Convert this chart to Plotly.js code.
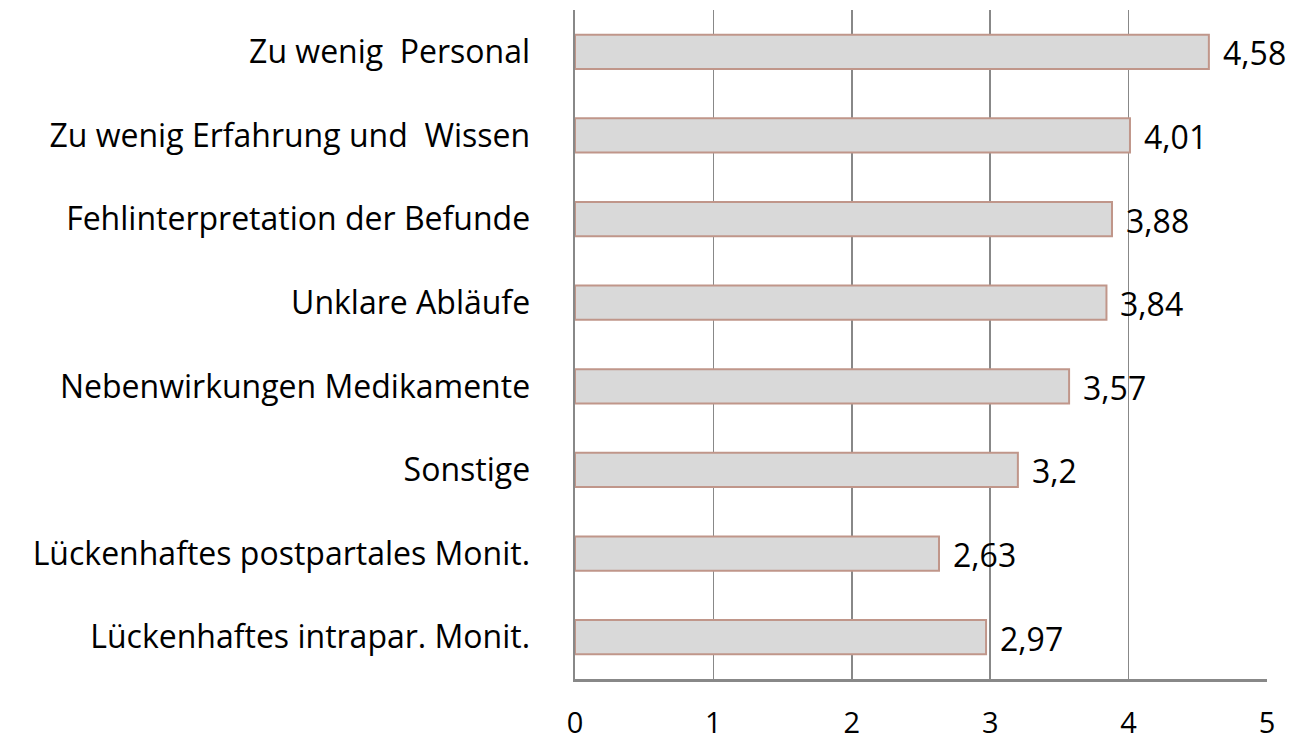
<!DOCTYPE html>
<html><head><meta charset="utf-8">
<script src="https://cdn.plot.ly/plotly-3.0.1.min.js"></script>
<style>html,body{margin:0;padding:0;background:#fff}#chart{width:1296px;height:745px}</style>
</head><body><div id="chart"></div>
<script>
const categories = [
  "Zu wenig  Personal",
  "Zu wenig Erfahrung und  Wissen",
  "Fehlinterpretation der Befunde",
  "Unklare Abläufe",
  "Nebenwirkungen Medikamente",
  "Sonstige",
  "Lückenhaftes postpartales Monit.",
  "Lückenhaftes intrapar. Monit."
];
const values = [4.58, 4.01, 3.88, 3.84, 3.57, 3.2, 2.63, 2.97];
const valueLabels = ["4,58", "4,01", "3,88", "3,84", "3,57", "3,2", "2,63", "2,97"];
const xTicks = [0, 1, 2, 3, 4, 5];

const FONT = "'Open Sans', sans-serif";
const FS = 32;

const trace = {
  type: "bar",
  orientation: "h",
  y: categories,
  x: values,
  marker: {color: "#d9d9d9", line: {color: "#c0968a", width: 2}},
  hoverinfo: "skip"
};

const annotations = categories.map((c, i) => ({
  x: values[i], y: c, xref: "x", yref: "y",
  text: valueLabels[i], showarrow: false,
  xanchor: "left", yanchor: "middle", xshift: 12, yshift: -1,
  font: {family: FONT, size: FS, color: "#000"}
}));

const layout = {
  width: 1296, height: 745,
  margin: {l: 575, r: 29, t: 10, b: 66},
  paper_bgcolor: "#fff", plot_bgcolor: "#fff",
  showlegend: false,
  bargap: 0.59,
  font: {family: FONT, size: FS, color: "#000"},
  xaxis: {
    range: [0, 5], tickvals: xTicks, ticktext: xTicks.map(String),
    showgrid: true, gridcolor: "#888", gridwidth: 1.5,
    zeroline: false, showline: true, linecolor: "#888", linewidth: 2.5,
    mirror: false, ticks: "", ticklabelstandoff: 17,
    tickfont: {family: FONT, size: 29, color: "#000"}, fixedrange: true
  },
  yaxis: {
    categoryorder: "array", categoryarray: categories, autorange: "reversed",
    showgrid: false, zeroline: false, showline: true, linecolor: "#888", linewidth: 2.5,
    ticks: "", ticklabelstandoff: 36,
    tickfont: {family: FONT, size: FS, color: "#000"}, fixedrange: true
  },
  annotations: annotations
};

Plotly.newPlot("chart", [trace], layout, {displayModeBar: false, staticPlot: true});
</script>
</body></html>
